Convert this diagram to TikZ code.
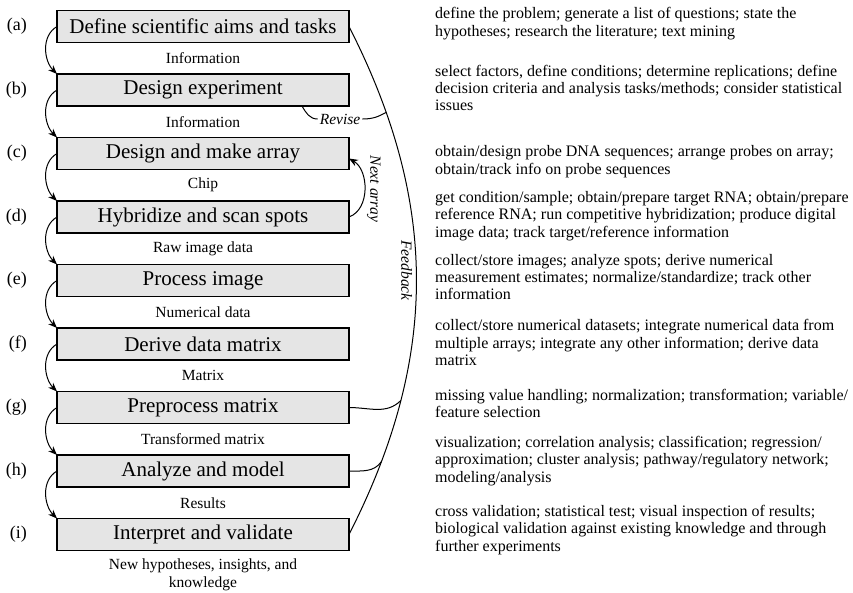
\documentclass[tikz,border=0pt]{standalone}
\usepackage{fontspec}
\setmainfont{Liberation Serif}
\usepackage{tikz}
\usetikzlibrary{arrows.meta}
\usetikzlibrary{positioning}
\tikzstyle{stage} = [rectangle, draw=black, fill=gray!20, line width=1.1pt, minimum width=292pt, minimum height=32pt, inner sep=0pt, outer sep=0pt, font=\fontsize{21}{24}\selectfont]
\tikzstyle{stepLabel} = [inner sep=0pt, font=\fontsize{18}{20}\selectfont]
\tikzstyle{flowText} = [inner sep=0pt, font=\fontsize{15.5}{18}\selectfont]
\tikzstyle{note} = [anchor=west, inner sep=0pt, align=left, font=\fontsize{16}{17.3}\selectfont]
\tikzstyle{loopText} = [inner sep=2pt, font=\fontsize{15.5}{18}\selectfont\itshape]
\tikzstyle{arrow} = [line width=1pt, -{Stealth[length=9pt,width=7pt]}]
\tikzstyle{link} = [line width=1pt, -]

\begin{document}
\begin{tikzpicture}[x=1pt, y=-1pt, node distance=31.5pt]
\useasboundingbox (0,0) rectangle (853,592);
                        \node (a) [stage] at (203,26.5) {Define scientific aims and tasks};
                        \node (b) [stage, below=of a] {Design experiment};
                        \node (c) [stage, below=of b] {Design and make array};
                        \node (d) [stage, below=of c] {Hybridize and scan spots};
                        \node (e) [stage, below=of d] {Process image};
                        \node (f) [stage, below=of e] {Derive data matrix};
                        \node (g) [stage, below=of f] {Preprocess matrix};
                        \node (h) [stage, below=of g] {Analyze and model};
                        \node (i) [stage, below=of h] {Interpret and validate};
                        \node (la) [stepLabel, left=30pt of a] {(a)};
                        \node (lb) [stepLabel, left=30pt of b] {(b)};
                        \node (lc) [stepLabel, left=30pt of c] {(c)};
                        \node (ld) [stepLabel, left=30pt of d] {(d)};
                        \node (le) [stepLabel, left=30pt of e] {(e)};
                        \node (lf) [stepLabel, left=30pt of f] {(f)};
                        \node (lg) [stepLabel, left=30pt of g] {(g)};
                        \node (lh) [stepLabel, left=30pt of h] {(h)};
                        \node (li) [stepLabel, left=30pt of i] {(i)};
                        \path (a) -- node[flowText] (ab) {Information} (b);
                        \path (b) -- node[flowText] (bc) {Information} (c);
                        \path (c) -- node[flowText] (cd) {Chip} (d);
                        \path (d) -- node[flowText] (de) {Raw image data} (e);
                        \path (e) -- node[flowText] (ef) {Numerical data} (f);
                        \path (f) -- node[flowText] (fg) {Matrix} (g);
                        \path (g) -- node[flowText] (gh) {Transformed matrix} (h);
                        \path (h) -- node[flowText] (hi) {Results} (i);
                        \node (out) [flowText, align=center, below=8pt of i] {New hypotheses, insights, and\\knowledge};
                        \draw (a.west) [arrow] to[out=210, in=135] (b.north west);
                        \draw (b.west) [arrow] to[out=210, in=135] (c.north west);
                        \draw (c.west) [arrow] to[out=210, in=135] (d.north west);
                        \draw (d.west) [arrow] to[out=210, in=135] (e.north west);
                        \draw (e.west) [arrow] to[out=210, in=135] (f.north west);
                        \draw (f.west) [arrow] to[out=210, in=135] (g.north west);
                        \draw (g.west) [arrow] to[out=210, in=135] (h.north west);
                        \draw (h.west) [arrow] to[out=210, in=135] (i.north west);
                        \draw (a.east) [link] to[out=-63, in=63] coordinate[pos=0.165] (fbRev) coordinate[pos=0.48] (fbMid) coordinate[pos=0.74] (fbG) coordinate[pos=0.86] (fbH) (i.east);
                        \node (feedback) [loopText, rotate=-90, anchor=north, inner sep=4pt] at (fbMid) {Feedback};
                        \node (revise) [loopText] at (340,119) {Revise};
                        \draw ([xshift=-47pt]b.south east) [link] to[out=-60, in=180] (revise.west);
                        \draw (revise.east) [link] to[out=0, in=-150] (fbRev);
                        \draw (g.east) [link] to[out=0, in=-135] (fbG);
                        \draw (h.east) [link] to[out=0, in=-125] (fbH);
                        \draw (d.east) [arrow] to[out=20, in=-30] node[loopText, rotate=-90, anchor=south] (next) {Next array} ([yshift=-5pt]c.east);
                        \node (na) [note] at (435,23.5) {define the problem; generate a list of questions; state the\\hypotheses; research the literature; text mining};
                        \node (nb) [note] at (435,88) {select factors, define conditions; determine replications; define\\decision criteria and analysis tasks/methods; consider statistical\\issues};
                        \node (nc) [note] at (435,161.5) {obtain/design probe DNA sequences; arrange probes on array;\\obtain/track info on probe sequences};
                        \node (nd) [note] at (435,216) {get condition/sample; obtain/prepare target RNA; obtain/prepare\\reference RNA; run competitive hybridization; produce digital\\image data; track target/reference information};
                        \node (ne) [note] at (435,277) {collect/store images; analyze spots; derive numerical\\measurement estimates; normalize/standardize; track other\\information};
                        \node (nf) [note] at (435,342.5) {collect/store numerical datasets; integrate numerical data from\\multiple arrays; integrate any other information; derive data\\matrix};
                        \node (ng) [note] at (435,403.5) {missing value handling; normalization; transformation; variable/\\feature selection};
                        \node (nh) [note] at (435,461) {visualization; correlation analysis; classification; regression/\\approximation; cluster analysis; pathway/regulatory network;\\modeling/analysis};
                        \node (ni) [note] at (435,530) {cross validation; statistical test; visual inspection of results;\\biological validation against existing knowledge and through\\further experiments};
\end{tikzpicture}
\end{document}
